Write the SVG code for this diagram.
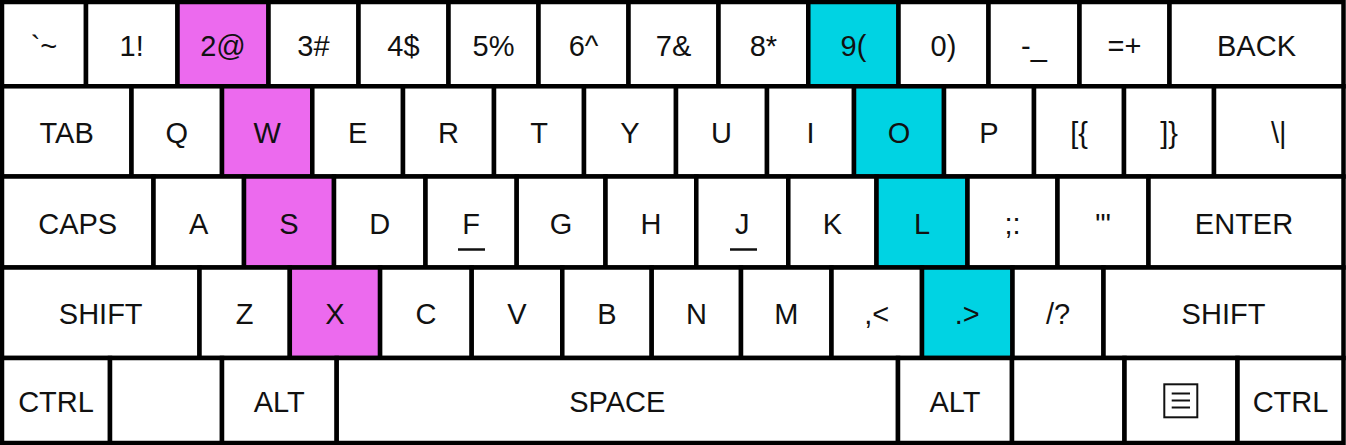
<svg xmlns="http://www.w3.org/2000/svg" width="1346" height="445" viewBox="0 0 1346 445">
<style>
.k{fill:#ffffff;stroke:#000000;stroke-width:4.5}
.p{fill:#EC6AEE;stroke:#000000;stroke-width:4.5}
.c{fill:#00D3E3;stroke:#000000;stroke-width:4.5}
text{font-family:"Liberation Sans",Arial,sans-serif;font-size:29px;fill:#111111;text-anchor:middle}
.u{stroke:#111111;stroke-width:2.5}
</style>
<rect x="0" y="0" width="1346" height="445" fill="#ffffff"/>
<!-- Row 1 -->
<g id="k-tilde"><rect class="k" x="2" y="2" width="84" height="84.3"/><text x="44" y="55.5">`~</text></g>
<g id="k-1"><rect class="k" x="86" y="2" width="91.5" height="84.3"/><text x="131.7" y="55.5">1!</text></g>
<g id="k-2"><rect class="p" x="177.5" y="2" width="91" height="84.3"/><text x="223" y="55.5">2@</text></g>
<g id="k-3"><rect class="k" x="268.5" y="2" width="90" height="84.3"/><text x="313.5" y="55.5">3#</text></g>
<g id="k-4"><rect class="k" x="358.5" y="2" width="90" height="84.3"/><text x="403.5" y="55.5">4$</text></g>
<g id="k-5"><rect class="k" x="448.5" y="2" width="90" height="84.3"/><text x="493.5" y="55.5">5%</text></g>
<g id="k-6"><rect class="k" x="538.5" y="2" width="90" height="84.3"/><text x="583.5" y="55.5">6^</text></g>
<g id="k-7"><rect class="k" x="628.5" y="2" width="90" height="84.3"/><text x="673.5" y="55.5">7&amp;</text></g>
<g id="k-8"><rect class="k" x="718.5" y="2" width="89.8" height="84.3"/><text x="763.4" y="55.5">8*</text></g>
<g id="k-9"><rect class="c" x="808.3" y="2" width="90.2" height="84.3"/><text x="853.4" y="55.5">9(</text></g>
<g id="k-0"><rect class="k" x="898.5" y="2" width="90" height="84.3"/><text x="943.5" y="55.5">0)</text></g>
<g id="k-minus"><rect class="k" x="988.5" y="2" width="91" height="84.3"/><text x="1034" y="55.5">-_</text></g>
<g id="k-equal"><rect class="k" x="1079.5" y="2" width="90" height="84.3"/><text x="1124.5" y="55.5">=+</text></g>
<g id="k-back"><rect class="k" x="1169.5" y="2" width="174" height="84.3"/><text x="1256.5" y="55.5">BACK</text></g>
<!-- Row 2 -->
<g id="k-tab"><rect class="k" x="2" y="86.3" width="129.5" height="90.2"/><text x="66.7" y="143">TAB</text></g>
<g id="k-q"><rect class="k" x="131.5" y="86.3" width="90.5" height="90.2"/><text x="176.7" y="143">Q</text></g>
<g id="k-w"><rect class="p" x="222" y="86.3" width="90.3" height="90.2"/><text x="267.1" y="143">W</text></g>
<g id="k-e"><rect class="k" x="312.3" y="86.3" width="90.7" height="90.2"/><text x="357.6" y="143">E</text></g>
<g id="k-r"><rect class="k" x="403" y="86.3" width="91" height="90.2"/><text x="448.5" y="143">R</text></g>
<g id="k-t"><rect class="k" x="494" y="86.3" width="90" height="90.2"/><text x="539" y="143">T</text></g>
<g id="k-y"><rect class="k" x="584" y="86.3" width="92" height="90.2"/><text x="630" y="143">Y</text></g>
<g id="k-u"><rect class="k" x="676" y="86.3" width="91" height="90.2"/><text x="721.5" y="143">U</text></g>
<g id="k-i"><rect class="k" x="767" y="86.3" width="87" height="90.2"/><text x="810.5" y="143">I</text></g>
<g id="k-o"><rect class="c" x="854" y="86.3" width="90" height="90.2"/><text x="899" y="143">O</text></g>
<g id="k-p"><rect class="k" x="944" y="86.3" width="90" height="90.2"/><text x="989" y="143">P</text></g>
<g id="k-lbr"><rect class="k" x="1034" y="86.3" width="90" height="90.2"/><text x="1079" y="143">[{</text></g>
<g id="k-rbr"><rect class="k" x="1124" y="86.3" width="90" height="90.2"/><text x="1169" y="143">]}</text></g>
<g id="k-bslash"><rect class="k" x="1214" y="86.3" width="129.5" height="90.2"/><text x="1278.7" y="143">\|</text></g>
<!-- Row 3 -->
<g id="k-caps"><rect class="k" x="2" y="176.5" width="151.5" height="91"/><text x="77.7" y="233.5">CAPS</text></g>
<g id="k-a"><rect class="k" x="153.5" y="176.5" width="90.5" height="91"/><text x="198.7" y="233.5">A</text></g>
<g id="k-s"><rect class="p" x="244" y="176.5" width="90" height="91"/><text x="289" y="233.5">S</text></g>
<g id="k-d"><rect class="k" x="334" y="176.5" width="91.5" height="91"/><text x="379.7" y="233.5">D</text></g>
<g id="k-f"><rect class="k" x="425.5" y="176.5" width="91.2" height="91"/><text x="471.1" y="233.5">F</text><line class="u" x1="458" y1="249.5" x2="485" y2="249.5"/></g>
<g id="k-g"><rect class="k" x="516.7" y="176.5" width="88.8" height="91"/><text x="561.1" y="233.5">G</text></g>
<g id="k-h"><rect class="k" x="605.5" y="176.5" width="90.8" height="91"/><text x="650.9" y="233.5">H</text></g>
<g id="k-j"><rect class="k" x="696.3" y="176.5" width="92" height="91"/><text x="742.3" y="233.5">J</text><line class="u" x1="730" y1="249.5" x2="757" y2="249.5"/></g>
<g id="k-k"><rect class="k" x="788.3" y="176.5" width="88.2" height="91"/><text x="832.4" y="233.5">K</text></g>
<g id="k-l"><rect class="c" x="876.5" y="176.5" width="91" height="91"/><text x="922" y="233.5">L</text></g>
<g id="k-semi"><rect class="k" x="967.5" y="176.5" width="90" height="91"/><text x="1012.5" y="233.5">;:</text></g>
<g id="k-quote"><rect class="k" x="1057.5" y="176.5" width="91" height="91"/><text x="1103" y="233.5">'"</text></g>
<g id="k-enter"><rect class="k" x="1148.5" y="176.5" width="195" height="91"/><text x="1244" y="233.5">ENTER</text></g>
<!-- Row 4 -->
<g id="k-lshift"><rect class="k" x="2" y="267.5" width="197.5" height="90.5"/><text x="100.7" y="323.5">SHIFT</text></g>
<g id="k-z"><rect class="k" x="199.5" y="267.5" width="90.3" height="90.5"/><text x="244.7" y="323.5">Z</text></g>
<g id="k-x"><rect class="p" x="289.8" y="267.5" width="90.3" height="90.5"/><text x="335" y="323.5">X</text></g>
<g id="k-c"><rect class="k" x="380.1" y="267.5" width="91.6" height="90.5"/><text x="425.9" y="323.5">C</text></g>
<g id="k-v"><rect class="k" x="471.7" y="267.5" width="90.6" height="90.5"/><text x="517" y="323.5">V</text></g>
<g id="k-b"><rect class="k" x="562.3" y="267.5" width="89.4" height="90.5"/><text x="607" y="323.5">B</text></g>
<g id="k-n"><rect class="k" x="651.7" y="267.5" width="89.3" height="90.5"/><text x="696.4" y="323.5">N</text></g>
<g id="k-m"><rect class="k" x="741" y="267.5" width="90.5" height="90.5"/><text x="786.3" y="323.5">M</text></g>
<g id="k-comma"><rect class="k" x="831.5" y="267.5" width="90.5" height="90.5"/><text x="876.8" y="323.5">,&lt;</text></g>
<g id="k-period"><rect class="c" x="922" y="267.5" width="90.5" height="90.5"/><text x="967.3" y="323.5">.&gt;</text></g>
<g id="k-slash"><rect class="k" x="1012.5" y="267.5" width="91" height="90.5"/><text x="1058" y="323.5">/?</text></g>
<g id="k-rshift"><rect class="k" x="1103.5" y="267.5" width="240" height="90.5"/><text x="1223.5" y="323.5">SHIFT</text></g>
<!-- Row 5 -->
<g id="k-lctrl"><rect class="k" x="2" y="358" width="108" height="85"/><text x="56" y="412">CTRL</text></g>
<g id="k-lwin"><rect class="k" x="110" y="358" width="112" height="85"/></g>
<g id="k-lalt"><rect class="k" x="222" y="358" width="114.7" height="85"/><text x="279.3" y="412">ALT</text></g>
<g id="k-space"><rect class="k" x="336.7" y="358" width="561.3" height="85"/><text x="617.3" y="412">SPACE</text></g>
<g id="k-ralt"><rect class="k" x="898" y="358" width="114" height="85"/><text x="955" y="412">ALT</text></g>
<g id="k-rwin"><rect class="k" x="1012" y="358" width="112.5" height="85"/></g>
<g id="k-menu"><rect class="k" x="1124.5" y="358" width="113" height="85"/>
<rect x="1164.3" y="384.3" width="33" height="33" fill="none" stroke="#111111" stroke-width="2"/>
<line x1="1171.7" y1="393.5" x2="1190" y2="393.5" stroke="#111111" stroke-width="2"/>
<line x1="1171.7" y1="400.5" x2="1190" y2="400.5" stroke="#111111" stroke-width="2"/>
<line x1="1171.7" y1="407.5" x2="1190" y2="407.5" stroke="#111111" stroke-width="2"/>
</g>
<g id="k-rctrl"><rect class="k" x="1237.5" y="358" width="106" height="85"/><text x="1290.5" y="412">CTRL</text></g>
<g id="connectors"></g>
</svg>
